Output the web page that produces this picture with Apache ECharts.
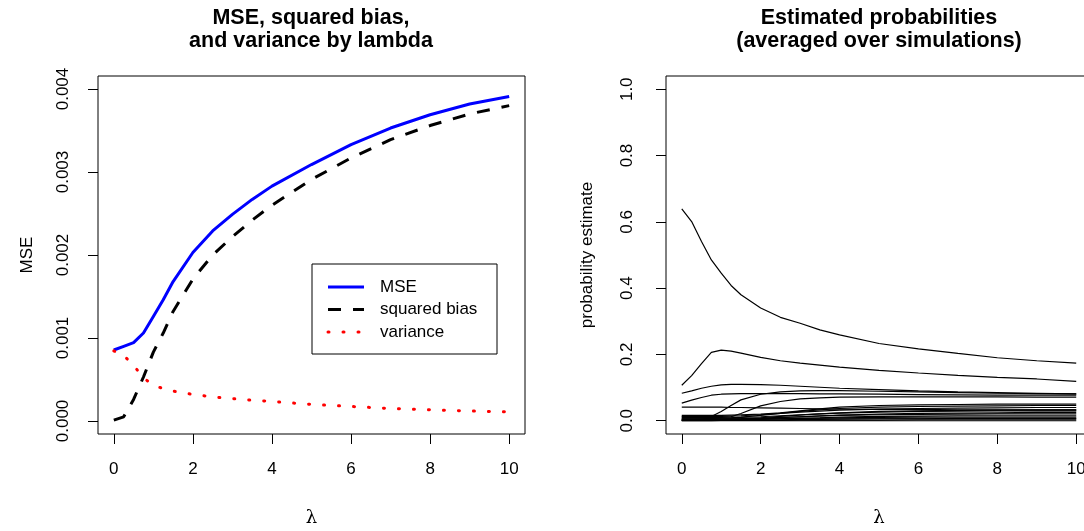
<!DOCTYPE html>
<html>
<head>
<meta charset="utf-8">
<script src="https://cdn.jsdelivr.net/npm/echarts@6/dist/echarts.min.js"></script>
<style>
  html, body { margin: 0; padding: 0; background: #fff; }
  #chart { width: 1084px; height: 531px; }
</style>
</head>
<body>
<div id="chart"></div>
<script>
// lambda grid shared by every curve
var lambda = [0, 0.25, 0.5, 0.75, 1, 1.25, 1.5, 2, 2.5, 3, 3.5, 4, 5, 6, 7, 8, 9, 10];

// left panel
var mse      = [0.000855, 0.0009, 0.000944, 0.00106, 0.00126, 0.00146, 0.00168, 0.00203, 0.00229, 0.00249, 0.00267, 0.00283, 0.00309, 0.00333, 0.00353, 0.00369, 0.00382, 0.00391];
var sqBias   = [0.00001, 0.00005, 0.00026, 0.00053, 0.00083, 0.00106, 0.00132, 0.00171, 0.002, 0.00222, 0.00242, 0.0026, 0.00291, 0.00317, 0.00339, 0.00356, 0.0037, 0.0038];
var variance = [0.000845, 0.00079, 0.00067, 0.00052, 0.00043, 0.00039, 0.00036, 0.00032, 0.00029, 0.00027, 0.00025, 0.000235, 0.0002, 0.000175, 0.00015, 0.000135, 0.00012, 0.00011];

// right panel: averaged probability estimates, one array per class
var p01 = [0.639, 0.601, 0.541, 0.485, 0.445, 0.408, 0.38, 0.34, 0.312, 0.294, 0.274, 0.259, 0.233, 0.217, 0.203, 0.19, 0.181, 0.174];
var p02 = [0.107, 0.136, 0.172, 0.206, 0.213, 0.21, 0.204, 0.191, 0.181, 0.174, 0.168, 0.162, 0.152, 0.144, 0.137, 0.131, 0.126, 0.119];
var p03 = [0.083, 0.09, 0.098, 0.104, 0.108, 0.11, 0.11, 0.109, 0.107, 0.104, 0.101, 0.098, 0.094, 0.09, 0.087, 0.085, 0.083, 0.081];
var p04 = [0.053, 0.062, 0.07, 0.077, 0.08, 0.081, 0.082, 0.082, 0.082, 0.082, 0.081, 0.081, 0.08, 0.079, 0.078, 0.077, 0.077, 0.077];
var p05 = [0.041, 0.041, 0.041, 0.041, 0.041, 0.04, 0.04, 0.039, 0.038, 0.037, 0.036, 0.035, 0.034, 0.034, 0.033, 0.033, 0.033, 0.033];
var p06 = [0.013, 0.013, 0.013, 0.013, 0.028, 0.046, 0.063, 0.08, 0.087, 0.09, 0.091, 0.091, 0.089, 0.087, 0.085, 0.083, 0.082, 0.081];
var p07 = [0.01, 0.01, 0.01, 0.01, 0.01, 0.012, 0.022, 0.045, 0.058, 0.066, 0.069, 0.071, 0.072, 0.072, 0.072, 0.072, 0.071, 0.071];
var p08 = [0.016, 0.016, 0.016, 0.016, 0.016, 0.017, 0.018, 0.02, 0.024, 0.03, 0.036, 0.041, 0.046, 0.048, 0.049, 0.05, 0.05, 0.05];
var p09 = [0.005, 0.005, 0.006, 0.007, 0.008, 0.009, 0.011, 0.016, 0.022, 0.028, 0.033, 0.037, 0.041, 0.043, 0.044, 0.045, 0.046, 0.046];
var p10 = [0.012, 0.012, 0.012, 0.013, 0.013, 0.014, 0.015, 0.018, 0.022, 0.026, 0.029, 0.032, 0.035, 0.037, 0.038, 0.039, 0.04, 0.04];
var p11 = [0.002, 0.002, 0.003, 0.003, 0.004, 0.005, 0.006, 0.009, 0.013, 0.017, 0.021, 0.024, 0.028, 0.03, 0.031, 0.032, 0.033, 0.033];
var p12 = [0.008, 0.008, 0.008, 0.008, 0.009, 0.009, 0.01, 0.012, 0.015, 0.018, 0.021, 0.023, 0.026, 0.028, 0.029, 0.03, 0.03, 0.03];
var p13 = [0.001, 0.001, 0.001, 0.002, 0.002, 0.003, 0.004, 0.006, 0.009, 0.012, 0.015, 0.017, 0.02, 0.022, 0.023, 0.024, 0.025, 0.025];
var p14 = [0.004, 0.004, 0.004, 0.005, 0.005, 0.006, 0.006, 0.008, 0.01, 0.012, 0.014, 0.016, 0.018, 0.019, 0.02, 0.021, 0.021, 0.021];
var p15 = [0.001, 0.001, 0.001, 0.001, 0.002, 0.002, 0.003, 0.004, 0.006, 0.008, 0.009, 0.011, 0.013, 0.014, 0.015, 0.015, 0.015, 0.015];
var p16 = [0.003, 0.003, 0.003, 0.003, 0.004, 0.004, 0.004, 0.005, 0.006, 0.007, 0.008, 0.009, 0.01, 0.011, 0.011, 0.011, 0.011, 0.011];
var p17 = [0.001, 0.001, 0.001, 0.001, 0.001, 0.001, 0.002, 0.002, 0.003, 0.004, 0.004, 0.005, 0.006, 0.006, 0.007, 0.007, 0.007, 0.007];
var p18 = [0, 0, 0, 0, 0.001, 0.001, 0.001, 0.001, 0.001, 0.002, 0.002, 0.002, 0.002, 0.003, 0.003, 0.003, 0.003, 0.003];
var p19 = [0, 0, 0, 0, 0, 0, 0, 0, 0, 0, 0, 0, 0, 0, 0, 0, 0, 0];
var p20 = [0.006, 0.006, 0.006, 0.006, 0.006, 0.006, 0.006, 0.006, 0.006, 0.006, 0.006, 0.006, 0.006, 0.006, 0.006, 0.006, 0.006, 0.006];
var probCurves = [p01, p02, p03, p04, p05, p06, p07, p08, p09, p10, p11, p12, p13, p14, p15, p16, p17, p18, p19, p20];

// tick labels
var lambdaTicks = [0, 2, 4, 6, 8, 10];
var mseTicks = [0, 0.001, 0.002, 0.003, 0.004];
var probTicks = [0, 0.2, 0.4, 0.6, 0.8, 1.0];

var FONT = 'Liberation Sans';

function pairs(ys) {
    return lambda.map(function (x, i) { return [x, ys[i]]; });
}

function xAxisFor(idx) {
    return {
        gridIndex: idx,
        type: 'value',
        min: -0.4,
        max: 10.4,
        splitLine: { show: false },
        axisLine: { show: false, onZero: false },
        axisTick: { show: true, length: 10, customValues: lambdaTicks, lineStyle: { color: '#000' } },
        axisLabel: { customValues: lambdaTicks, margin: 27, fontSize: 17, color: '#000', fontFamily: FONT },
        name: 'λ',
        nameLocation: 'middle',
        nameGap: 75,
        nameTextStyle: { fontSize: 18, color: '#000', fontFamily: 'DejaVu Serif' }
    };
}

var chart = echarts.init(document.getElementById('chart'));

var series = [
    { name: 'MSE', type: 'line', xAxisIndex: 0, yAxisIndex: 0, data: pairs(mse), symbol: 'none',
      lineStyle: { color: '#0000ff', width: 3 } },
    { name: 'squared bias', type: 'line', xAxisIndex: 0, yAxisIndex: 0, data: pairs(sqBias), symbol: 'none',
      lineStyle: { color: '#000', width: 3, type: [13, 12] } },
    { name: 'variance', type: 'line', xAxisIndex: 0, yAxisIndex: 0, data: pairs(variance), symbol: 'none',
      lineStyle: { color: '#ff0000', width: 3, type: [1, 14], cap: 'round' } }
];

probCurves.forEach(function (c, i) {
    series.push({
        name: 'class ' + (i + 1), type: 'line', xAxisIndex: 1, yAxisIndex: 1,
        data: pairs(c), symbol: 'none',
        lineStyle: { color: '#000', width: 1.2 }
    });
});

chart.setOption({
    animation: false,
    backgroundColor: '#fff',
    title: [
        {
            text: 'MSE, squared bias,\nand variance by lambda',
            left: 311, top: 7, textAlign: 'center', padding: 0,
            textStyle: { fontSize: 21.5, fontWeight: 'bold', lineHeight: 23, color: '#000', fontFamily: FONT }
        },
        {
            text: 'Estimated probabilities\n(averaged over simulations)',
            left: 879, top: 7, textAlign: 'center', padding: 0,
            textStyle: { fontSize: 21.5, fontWeight: 'bold', lineHeight: 23, color: '#000', fontFamily: FONT }
        }
    ],
    grid: [
        { left: 98, top: 76, width: 427, height: 358, show: true, borderColor: '#000', borderWidth: 1, outerBoundsMode: 'none' },
        { left: 666, top: 76, width: 426, height: 358, show: true, borderColor: '#000', borderWidth: 1, outerBoundsMode: 'none' }
    ],
    xAxis: [xAxisFor(0), xAxisFor(1)],
    yAxis: [
        {
            gridIndex: 0, type: 'value',
            min: -0.000157, max: 0.004157,
            splitLine: { show: false },
            axisLine: { show: false, onZero: false },
            axisTick: { show: true, length: 10, customValues: mseTicks, lineStyle: { color: '#000' } },
            axisLabel: {
                customValues: mseTicks, rotate: 90, margin: 26, fontSize: 17, color: '#000', fontFamily: FONT,
                formatter: function (v) { return v.toFixed(3); }
            },
            name: 'MSE', nameLocation: 'middle', nameGap: 62,
            nameTextStyle: { fontSize: 17, color: '#000', fontFamily: FONT }
        },
        {
            gridIndex: 1, type: 'value',
            min: -0.04, max: 1.04,
            splitLine: { show: false },
            axisLine: { show: false, onZero: false },
            axisTick: { show: true, length: 10, customValues: probTicks, lineStyle: { color: '#000' } },
            axisLabel: {
                customValues: probTicks, rotate: 90, margin: 30, fontSize: 17, color: '#000', fontFamily: FONT,
                formatter: function (v) { return v.toFixed(1); }
            },
            name: 'probability estimate', nameLocation: 'middle', nameGap: 70,
            nameTextStyle: { fontSize: 17, color: '#000', fontFamily: FONT }
        }
    ],
    // legend box of the left panel
    graphic: [
        { type: 'rect', shape: { x: 312, y: 264, width: 185, height: 90 },
          style: { fill: '#fff', stroke: '#000', lineWidth: 1 }, z: 100 },
        { type: 'line', shape: { x1: 328, y1: 287, x2: 364, y2: 287 },
          style: { stroke: '#0000ff', lineWidth: 3 }, z: 101 },
        { type: 'line', shape: { x1: 328, y1: 309.5, x2: 364, y2: 309.5 },
          style: { stroke: '#000', lineWidth: 3, lineDash: [13, 12] }, z: 101 },
        { type: 'line', shape: { x1: 328, y1: 332, x2: 364, y2: 332 },
          style: { stroke: '#ff0000', lineWidth: 3, lineDash: [1, 14], lineCap: 'round' }, z: 101 },
        { type: 'text', x: 380, y: 287, style: { text: 'MSE', fontSize: 17, fontFamily: FONT, fill: '#000', verticalAlign: 'middle' }, z: 101 },
        { type: 'text', x: 380, y: 309.5, style: { text: 'squared bias', fontSize: 17, fontFamily: FONT, fill: '#000', verticalAlign: 'middle' }, z: 101 },
        { type: 'text', x: 380, y: 332, style: { text: 'variance', fontSize: 17, fontFamily: FONT, fill: '#000', verticalAlign: 'middle' }, z: 101 }
    ],
    series: series
});
</script>
</body>
</html>
